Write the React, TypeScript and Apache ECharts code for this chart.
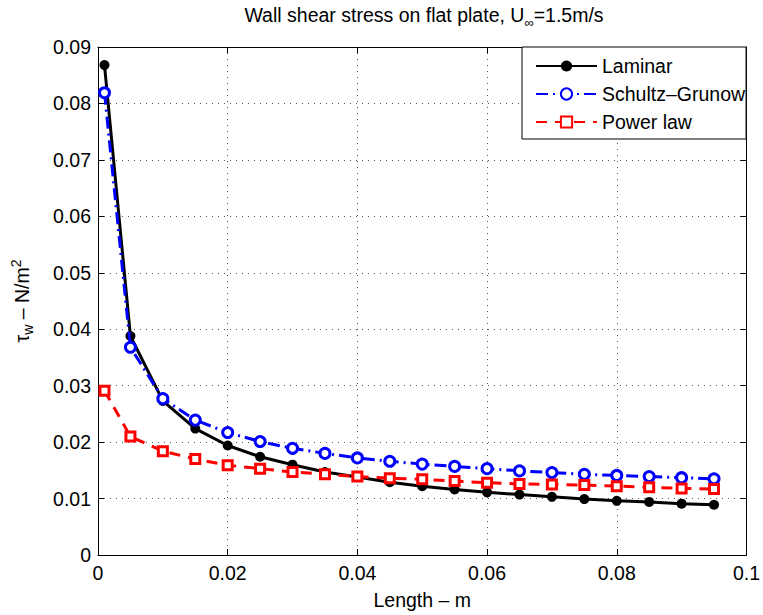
import React, { useEffect, useRef } from "react";
import * as echarts from "echarts";

const xs = [0.001, 0.005, 0.01, 0.015, 0.02, 0.025, 0.03, 0.035, 0.04, 0.045, 0.05, 0.055, 0.06, 0.065, 0.07, 0.075, 0.08, 0.085, 0.09, 0.095];
const laminar = [0.0868, 0.0388, 0.0273, 0.0224, 0.0194, 0.0174, 0.016, 0.0147, 0.0138, 0.0129, 0.0122, 0.0116, 0.0111, 0.0107, 0.0103, 0.0099, 0.0096, 0.0094, 0.0091, 0.0089];
const schultz = [0.0819, 0.0368, 0.0277, 0.0239, 0.0217, 0.0201, 0.0189, 0.018, 0.0172, 0.0166, 0.0161, 0.0157, 0.0153, 0.0149, 0.0146, 0.0143, 0.0141, 0.0139, 0.0137, 0.0135];
const powerLaw = [0.0291, 0.021, 0.0184, 0.017, 0.0159, 0.0153, 0.0147, 0.0143, 0.0139, 0.0136, 0.0134, 0.0131, 0.0128, 0.0126, 0.0125, 0.0124, 0.0122, 0.012, 0.0118, 0.0117];
const seriesNames = ["Laminar", "Schultz\u2013Grunow", "Power law"];

const FONT = "'Liberation Sans', Arial, Helvetica, sans-serif";
const FS = 19.5;

const fmt = (v: number) => (v === 0 ? "0" : String(+v.toFixed(3)));

export default function App() {
  const ref = useRef<HTMLDivElement>(null);
  useEffect(() => {
    if (!ref.current) return;
    const chart = echarts.init(ref.current, undefined, { renderer: "svg" });
    const pair = (ys: number[]) => xs.map((x, i) => [x, ys[i]]);
    const gridLine = { show: true, lineStyle: { color: "#555", width: 1, type: [1, 5] as any } };
    const axisLine = { show: true, onZero: false, lineStyle: { color: "#000", width: 1 } };
    const tick = { show: true, inside: true, length: 6, lineStyle: { color: "#000", width: 1 } };
    const label = { color: "#000", fontSize: FS, fontFamily: FONT };
    chart.setOption({
      animation: false,
      backgroundColor: "#fff",
      textStyle: { fontFamily: FONT },
      grid: { left: 98, right: 13, top: 47, bottom: 54, containLabel: false },
      graphic: [
        {
          type: "text",
          x: 424,
          y: 15,
          style: {
            text: "{m|Wall shear stress on flat plate, U}{s|\u221e}{m|=1.5m/s}",
            align: "center",
            verticalAlign: "middle",
            fill: "#000",
            rich: {
              m: { fontSize: FS, fontFamily: FONT, fill: "#000" },
              s: { fontSize: 13, fontFamily: FONT, fill: "#000", padding: [15, 0, 0, 0] },
            },
          },
        },
      ],
      legend: {
        orient: "vertical",
        left: 522,
        top: 47,
        data: seriesNames,
        backgroundColor: "#fff",
        borderColor: "#000",
        borderWidth: 1,
        borderRadius: 0,
        padding: [9, 1, 7, 13],
        itemWidth: 61,
        itemHeight: 14,
        itemGap: 8,
        textStyle: { fontSize: FS, fontFamily: FONT, color: "#000", lineHeight: 18 },
      },
      xAxis: [
        {
          type: "value",
          position: "bottom",
          min: 0,
          max: 0.1,
          interval: 0.02,
          name: "Length \u2013 m",
          nameLocation: "middle",
          nameGap: 35,
          nameTextStyle: { fontSize: FS, fontFamily: FONT, color: "#000" },
          axisLine,
          axisTick: tick,
          splitLine: gridLine,
          axisLabel: { ...label, margin: 8, formatter: fmt },
        },
        {
          type: "value",
          position: "top",
          min: 0,
          max: 0.1,
          interval: 0.02,
          axisLine,
          axisTick: tick,
          splitLine: { show: false },
          axisLabel: { show: false },
        },
      ],
      yAxis: [
        {
          type: "value",
          position: "left",
          min: 0,
          max: 0.09,
          interval: 0.01,
          name: "{m|\u03c4}{s|w}{m| \u2013 N/m}{p|2}",
          nameLocation: "middle",
          nameGap: 63,
          nameRotate: 90,
          nameTextStyle: {
            color: "#000",
            rich: {
              m: { fontSize: FS, fontFamily: FONT, color: "#000" },
              s: { fontSize: 14, fontFamily: FONT, color: "#000", padding: [12, 0, 0, 0] },
              p: { fontSize: 14, fontFamily: FONT, color: "#000", padding: [0, 0, 12, 0] },
            },
          },
          axisLine,
          axisTick: tick,
          splitLine: gridLine,
          axisLabel: { ...label, margin: 7, formatter: fmt },
        },
        {
          type: "value",
          position: "right",
          min: 0,
          max: 0.09,
          interval: 0.01,
          axisLine,
          axisTick: tick,
          splitLine: { show: false },
          axisLabel: { show: false },
        },
      ],
      series: [
        {
          name: seriesNames[0],
          type: "line",
          data: pair(laminar),
          color: "#000",
          symbol: "circle",
          symbolSize: 10,
          itemStyle: { color: "#000" },
          lineStyle: { color: "#000", width: 3, type: "solid" },
          z: 2,
        },
        {
          name: seriesNames[1],
          type: "line",
          data: pair(schultz),
          color: "#0000ff",
          symbol: "circle",
          symbolSize: 10,
          itemStyle: { color: "#fff", borderColor: "#0000ff", borderWidth: 3 },
          lineStyle: { color: "#0000ff", width: 3, type: [12, 5, 2, 5] },
          z: 3,
        },
        {
          name: seriesNames[2],
          type: "line",
          data: pair(powerLaw),
          color: "#ff0000",
          symbol: "rect",
          symbolSize: 9,
          itemStyle: { color: "#fff", borderColor: "#ff0000", borderWidth: 3 },
          lineStyle: { color: "#ff0000", width: 3, type: [11, 8] },
          z: 4,
        },
      ],
    });
    return () => chart.dispose();
  }, []);
  return <div ref={ref} style={{ position: "absolute", left: 0, top: 0, width: 763, height: 615 }} />;
}
